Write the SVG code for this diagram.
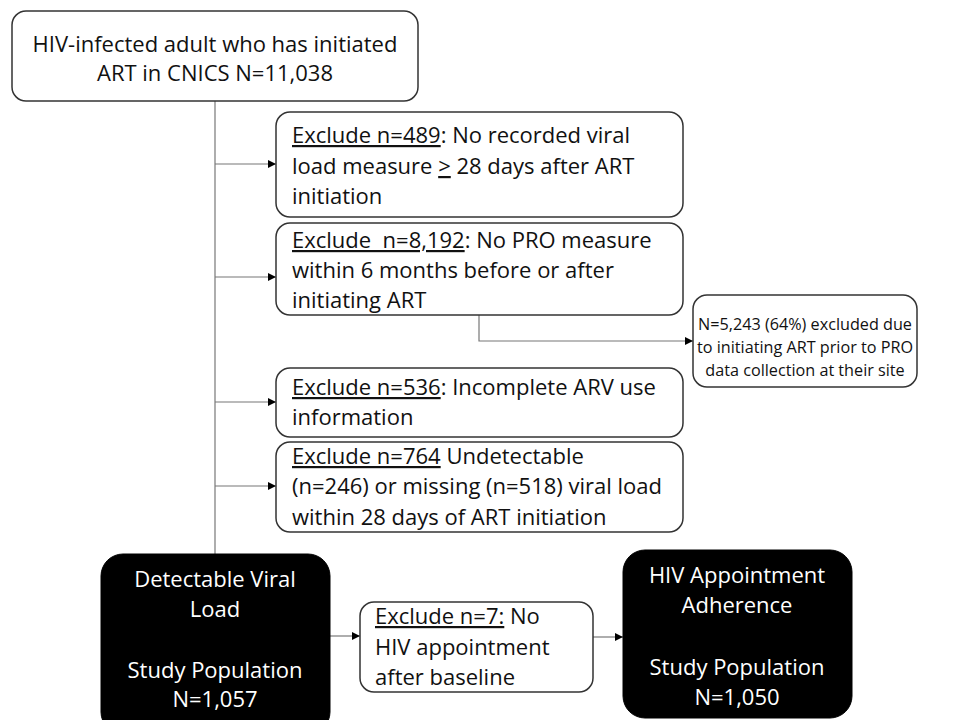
<svg xmlns="http://www.w3.org/2000/svg" width="958" height="720" viewBox="0 0 958 720">
<style>
text{font-family:"Open Sans","Liberation Sans",sans-serif;font-size:22px;fill:#111}
.box{fill:#fff;stroke:#333;stroke-width:1.5}
.dark{fill:#000;stroke:#000}
.w{fill:#fff;text-anchor:middle}
.c{text-anchor:middle}
.u{text-decoration:underline}
.sm{font-size:16.2px}
.con{fill:none;stroke:#777;stroke-width:1.2}
</style>
<defs>
<marker id="ar" viewBox="0 0 10 10" refX="10" refY="5" markerWidth="8" markerHeight="8" markerUnits="userSpaceOnUse" orient="auto">
<path d="M0,0 L10,5 L0,10 z" fill="#000"/>
</marker>
</defs>
<g id="connectors">
<path class="con" d="M215,101 V554"/>
<path class="con" d="M215,164 H276" marker-end="url(#ar)"/>
<path class="con" d="M215,277 H276" marker-end="url(#ar)"/>
<path class="con" d="M215,402 H276" marker-end="url(#ar)"/>
<path class="con" d="M215,486 H276" marker-end="url(#ar)"/>
<path class="con" d="M479,315 V341 H693" marker-end="url(#ar)"/>
<path class="con" d="M330,636 H360" marker-end="url(#ar)"/>
<path class="con" d="M593,637 H623" marker-end="url(#ar)"/>
</g>
<g id="start">
<rect class="box" x="12" y="11" width="406" height="90" rx="14"/>
<text class="c" x="215" y="52">HIV-infected adult who has initiated</text>
<text class="c" x="215" y="81">ART in CNICS N=11,038</text>
</g>
<g id="ex1">
<rect class="box" x="276" y="112" width="407" height="105" rx="14"/>
<text x="292" y="143"><tspan class="u">Exclude n=489</tspan>: No recorded viral</text>
<text x="292" y="174">load measure <tspan class="u">&gt;</tspan> 28 days after ART</text>
<text x="292" y="204">initiation</text>
</g>
<g id="ex2">
<rect class="box" x="276" y="223" width="407" height="92" rx="14"/>
<text x="292" y="248" style="white-space:pre"><tspan class="u">Exclude  n=8,192</tspan>: No PRO measure</text>
<text x="292" y="278">within 6 months before or after</text>
<text x="292" y="308">initiating ART</text>
</g>
<g id="side">
<rect class="box" x="693" y="295" width="224" height="92" rx="14"/>
<text class="c sm" x="805" y="330">N=5,243 (64%) excluded due</text>
<text class="c sm" x="805" y="353">to initiating ART prior to PRO</text>
<text class="c sm" x="805" y="376">data collection at their site</text>
</g>
<g id="ex3">
<rect class="box" x="276" y="368" width="407" height="69" rx="14"/>
<text x="292" y="395"><tspan class="u">Exclude n=536</tspan>: Incomplete ARV use</text>
<text x="292" y="425">information</text>
</g>
<g id="ex4">
<rect class="box" x="276" y="442" width="407" height="90" rx="14"/>
<text x="292" y="464"><tspan class="u">Exclude n=764</tspan> Undetectable</text>
<text x="292" y="494">(n=246) or missing (n=518) viral load</text>
<text x="292" y="525">within 28 days of ART initiation</text>
</g>
<g id="pop1">
<rect class="dark" x="101" y="554" width="229" height="180" rx="22"/>
<text class="w" x="215" y="587">Detectable Viral</text>
<text class="w" x="215" y="617">Load</text>
<text class="w" x="215" y="678">Study Population</text>
<text class="w" x="215" y="707">N=1,057</text>
</g>
<g id="ex5">
<rect class="box" x="360" y="602" width="233" height="90" rx="14"/>
<text x="375" y="624"><tspan class="u">Exclude n=7:</tspan> No</text>
<text x="375" y="655">HIV appointment</text>
<text x="375" y="685">after baseline</text>
</g>
<g id="pop2">
<rect class="dark" x="623" y="550" width="229" height="168" rx="22"/>
<text class="w" x="737" y="583">HIV Appointment</text>
<text class="w" x="737" y="613">Adherence</text>
<text class="w" x="737" y="675">Study Population</text>
<text class="w" x="737" y="705">N=1,050</text>
</g>
</svg>
